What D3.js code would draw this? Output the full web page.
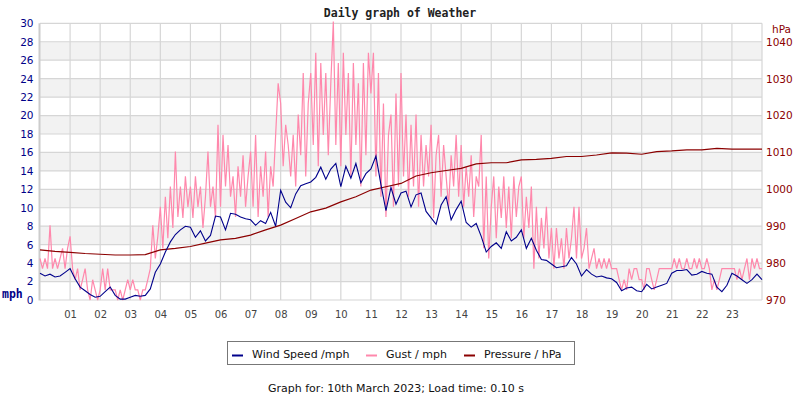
<!DOCTYPE html>
<html>
<head>
<meta charset="utf-8">
<script src="https://cdn.jsdelivr.net/npm/d3@7"></script>
<style>
body { margin: 0; background: #fff; }
svg text { font-family: "DejaVu Sans", sans-serif; }
</style>
</head>
<body>
<div id="chart"></div>
<script>
// Wind speed, mph, every 10 minutes from 00:00 to 24:00
const windSpeed = [
  2.9, 2.6, 2.8, 2.5, 2.6, 3.0,
  3.4, 2.3, 1.4, 1.0, 0.6, 0.3,
  0.4, 0.9, 1.4, 0.5, 0.1, 0.1,
  0.3, 0.5, 0.4, 0.5, 1.2, 3.0,
  3.9, 5.2, 6.3, 7.1, 7.6, 8.0,
  7.9, 6.8, 7.5, 6.4, 7.0, 9.1,
  9.0, 7.6, 9.4, 9.3, 9.0, 8.8,
  8.7, 8.1, 8.6, 8.3, 9.5, 8.0,
  11.9, 10.6, 10.0, 11.5, 12.4, 12.6,
  12.8, 13.3, 14.4, 13.1, 14.2, 14.8,
  12.3, 14.5, 13.2, 14.8, 12.7, 13.7,
  14.2, 15.6, 12.5, 9.7, 12.2, 10.4,
  11.6, 11.8, 10.1, 11.4, 11.6, 9.6,
  8.9, 8.2, 10.3, 11.2, 8.7, 9.8,
  10.7, 8.4, 7.9, 8.3, 6.9, 5.2,
  5.8, 6.2, 5.6, 7.4, 6.4, 6.8,
  7.6, 5.6, 6.7, 5.4, 4.4, 4.3,
  3.9, 3.5, 3.6, 3.7, 4.6, 3.9,
  2.6, 3.3, 2.8, 2.5, 2.6, 2.4,
  2.3, 1.9, 1.0, 1.3, 1.4, 1.0,
  0.9, 1.7, 1.2, 1.4, 1.6, 1.8,
  2.9, 3.2, 3.2, 3.3, 2.7, 2.8,
  3.1, 2.9, 2.8, 1.4, 0.9, 1.6,
  2.9, 2.6, 2.2, 1.8, 2.2, 2.8,
  2.2
];

// Gust, mph, every 5 minutes from 00:00 to 24:00
const gust = [
  4.5, 3.4, 4.5, 3.4, 8.1, 3.4, 4.5, 3.4, 4.5, 5.6, 3.4, 5.6,
  6.9, 3.4, 2.2, 3.4, 1.1, 2.2, 3.4, 1.1, 0.0, 2.2, 1.1, 0.0,
  1.1, 3.4, 1.1, 3.4, 1.1, 1.1, 1.1, 0.0, 1.1, 0.0, 1.1, 2.2,
  1.1, 2.2, 1.1, 1.1, 0.0, 1.1, 1.1, 2.2, 3.4, 8.1, 4.5, 6.9,
  10.1, 5.6, 11.2, 6.7, 12.3, 7.8, 16.1, 9.0, 12.3, 8.9, 13.4, 10.1,
  12.3, 8.9, 13.4, 10.1, 12.3, 7.8, 11.2, 16.1, 10.1, 12.3, 8.9, 19.0,
  10.1, 17.9, 12.3, 16.8, 11.2, 13.4, 9.0, 14.5, 11.2, 15.7, 10.1, 13.4,
  16.1, 10.1, 17.9, 9.0, 14.5, 11.2, 16.1, 9.0, 14.5, 12.3, 17.9, 23.5,
  21.3, 14.5, 19.0, 16.8, 13.4, 17.9, 12.3, 20.1, 15.7, 24.6, 13.4, 21.3,
  24.6, 16.8, 26.8, 14.5, 25.7, 17.9, 24.6, 15.7, 23.5, 30.2, 16.8, 25.7,
  14.5, 26.8, 17.9, 24.6, 13.4, 25.7, 16.8, 23.5, 12.3, 25.7, 15.7, 26.8,
  22.4, 26.8, 13.4, 24.6, 11.2, 21.3, 9.0, 17.9, 20.1, 10.1, 22.4, 12.3,
  24.6, 13.4, 20.1, 11.2, 19.0, 12.3, 20.1, 10.1, 17.9, 12.3, 16.8, 13.4,
  19.0, 8.9, 15.7, 17.9, 11.2, 16.8, 13.4, 10.1, 15.7, 12.3, 17.9, 11.2,
  16.8, 10.1, 14.5, 11.2, 15.7, 9.0, 13.4, 12.3, 17.9, 5.6, 13.4, 4.5,
  10.1, 13.4, 6.7, 12.3, 8.9, 13.4, 7.8, 12.3, 6.7, 13.4, 9.0, 12.3,
  13.4, 6.7, 11.2, 7.8, 12.3, 3.4, 10.1, 4.5, 8.9, 5.6, 10.1, 4.5,
  7.8, 3.4, 7.8, 4.5, 6.7, 3.4, 7.8, 4.5, 6.7, 10.1, 4.5, 10.1,
  4.5, 5.6, 7.8, 3.4, 4.5, 5.6, 3.4, 4.5, 3.4, 4.5, 3.4, 4.5,
  3.4, 3.4, 3.4, 2.2, 1.1, 2.2, 1.1, 3.4, 2.2, 3.4, 3.4, 2.2,
  2.2, 1.1, 3.4, 3.4, 2.2, 1.1, 2.2, 3.4, 3.4, 3.4, 3.4, 3.4,
  3.4, 4.5, 3.4, 4.5, 3.4, 3.4, 4.5, 3.4, 3.4, 4.5, 3.4, 4.5,
  3.4, 3.4, 4.5, 3.4, 1.1, 2.2, 1.1, 2.2, 3.4, 3.4, 3.4, 3.4,
  3.4, 3.4, 2.2, 3.4, 2.2, 3.4, 4.5, 2.2, 4.5, 3.4, 4.5, 3.4,
  3.4
];

// Pressure, hPa, every 30 minutes from 00:00 to 24:00
const pressure = [
  983.6, 983.2, 982.9, 982.6, 982.4, 982.2, 982.2, 982.3,
  983.6, 984.0, 984.5, 985.4, 986.3, 986.7, 987.6, 989.0,
  990.3, 992.1, 993.9, 994.9, 996.6, 998.0, 999.8, 1000.7,
  1001.6, 1003.6, 1004.5, 1005.1, 1005.7, 1006.9, 1007.2, 1007.2,
  1008.0, 1008.1, 1008.4, 1008.9, 1008.9, 1009.3, 1009.9, 1009.8,
  1009.5, 1010.2, 1010.4, 1010.7, 1010.7, 1011.1, 1010.9, 1010.9,
  1010.9
];

const hourTicks = ['01','02','03','04','05','06','07','08','09','10','11','12',
  '13','14','15','16','17','18','19','20','21','22','23'];
const mphTicks = [0, 2, 4, 6, 8, 10, 12, 14, 16, 18, 20, 22, 24, 26, 28, 30];
const hpaTicks = [970, 980, 990, 1000, 1010, 1020, 1030, 1040];
const legendItems = [
  {label: 'Wind Speed /mph', color: '#00008b', x: 232},
  {label: 'Gust / mph', color: '#ff88ac', x: 366},
  {label: 'Pressure / hPa', color: '#8b0000', x: 464}
];

const width = 800, height = 400;
const plot = {left: 40, right: 762, top: 23.3, bottom: 300};

const svg = d3.select('#chart').append('svg')
    .attr('width', width)
    .attr('height', height);

const xScale = d3.scaleLinear().domain([0, 24]).range([plot.left, plot.right]);
const yScale = d3.scaleLinear().domain([0, 30]).range([plot.bottom, plot.top]);
const pScale = d3.scaleLinear().domain([970, 1045]).range([plot.bottom, plot.top]);

// shaded bands
svg.append('g').selectAll('rect')
    .data(mphTicks.filter(function(d) { return d % 4 === 2 && d < 30; }))
    .enter().append('rect')
    .attr('x', plot.left)
    .attr('width', plot.right - plot.left)
    .attr('y', function(d) { return yScale(d + 2); })
    .attr('height', function(d) { return yScale(d) - yScale(d + 2); })
    .attr('fill', '#f2f2f2');

// grid
svg.append('g').selectAll('line')
    .data(mphTicks)
    .enter().append('line')
    .attr('x1', plot.left).attr('x2', plot.right)
    .attr('y1', function(d) { return yScale(d); })
    .attr('y2', function(d) { return yScale(d); })
    .attr('stroke', '#d6d6d6')
    .attr('stroke-width', 1.2);

svg.append('g').selectAll('line')
    .data(hourTicks)
    .enter().append('line')
    .attr('x1', function(d) { return xScale(+d); })
    .attr('x2', function(d) { return xScale(+d); })
    .attr('y1', plot.top).attr('y2', plot.bottom)
    .attr('stroke', '#d6d6d6')
    .attr('stroke-width', 1.2);

svg.append('line')
    .attr('x1', xScale(24)).attr('x2', xScale(24))
    .attr('y1', plot.top).attr('y2', plot.bottom)
    .attr('stroke', '#d6d6d6').attr('stroke-width', 1.2);

svg.append('line')
    .attr('x1', plot.left - 0.5).attr('x2', plot.left - 0.5)
    .attr('y1', plot.top).attr('y2', plot.bottom + 0.5)
    .attr('stroke', '#cccccc').attr('stroke-width', 2);

// series
const gustLine = d3.line()
    .x(function(d, i) { return xScale(i * 5 / 60); })
    .y(function(d) { return yScale(d); });

const windLine = d3.line()
    .x(function(d, i) { return xScale(i * 10 / 60); })
    .y(function(d) { return yScale(d); });

const pressureLine = d3.line()
    .x(function(d, i) { return xScale(i * 0.5); })
    .y(function(d) { return pScale(d); });

svg.append('path')
    .datum(gust)
    .attr('d', gustLine)
    .attr('fill', 'none')
    .attr('stroke', '#ff88ac')
    .attr('stroke-width', 1.2);

svg.append('path')
    .datum(pressure)
    .attr('d', pressureLine)
    .attr('fill', 'none')
    .attr('stroke', '#8b0000')
    .attr('stroke-width', 1.2);

svg.append('path')
    .datum(windSpeed)
    .attr('d', windLine)
    .attr('fill', 'none')
    .attr('stroke', '#00008b')
    .attr('stroke-width', 1.1);

// axes
const leftAxis = svg.append('g')
    .attr('transform', 'translate(' + plot.left + ',0)')
    .call(d3.axisLeft(yScale).tickValues(mphTicks).tickSize(0).tickPadding(6.5));
leftAxis.select('.domain').remove();
leftAxis.selectAll('text')
    .attr('fill', '#000088')
    .style('font-size', '10.5px')
    .style('font-family', '"DejaVu Sans", sans-serif');

const rightAxis = svg.append('g')
    .attr('transform', 'translate(' + plot.right + ',0)')
    .call(d3.axisRight(pScale).tickValues(hpaTicks).tickFormat(d3.format('d'))
        .tickSize(0).tickPadding(4));
rightAxis.select('.domain').remove();
rightAxis.selectAll('text')
    .attr('fill', '#8b0000')
    .style('font-size', '10.5px')
    .style('font-family', '"DejaVu Sans", sans-serif');

const bottomAxis = svg.append('g')
    .attr('transform', 'translate(0,' + plot.bottom + ')')
    .call(d3.axisBottom(xScale)
        .tickValues(hourTicks.map(Number))
        .tickFormat(function(d, i) { return hourTicks[i]; })
        .tickSize(0).tickPadding(11));
bottomAxis.select('.domain').remove();
bottomAxis.selectAll('text')
    .attr('fill', '#444')
    .style('font-size', '10px')
    .style('font-family', '"DejaVu Sans", sans-serif');

// titles
svg.append('text')
    .attr('x', 400).attr('y', 17)
    .attr('text-anchor', 'middle')
    .style('font-family', '"DejaVu Sans Mono", monospace')
    .style('font-weight', 'bold')
    .style('font-size', '11.5px')
    .attr('fill', '#222')
    .text('Daily graph of Weather');

svg.append('text')
    .attr('x', 2).attr('y', 298)
    .style('font-family', '"DejaVu Sans Mono", monospace')
    .style('font-weight', 'bold')
    .style('font-size', '11.5px')
    .attr('fill', '#000088')
    .text('mph');

svg.append('text')
    .attr('x', 772).attr('y', 33)
    .style('font-size', '10.5px')
    .attr('fill', '#8b0000')
    .text('hPa');

// legend
svg.append('rect')
    .attr('x', 227.5).attr('y', 341.5)
    .attr('width', 347).attr('height', 23)
    .attr('fill', '#fff')
    .attr('stroke', '#777');

const legend = svg.append('g').selectAll('g')
    .data(legendItems)
    .enter().append('g');

legend.append('line')
    .attr('x1', function(d) { return d.x; })
    .attr('x2', function(d) { return d.x + 11; })
    .attr('y1', 355.5).attr('y2', 355.5)
    .attr('stroke', function(d) { return d.color; })
    .attr('stroke-width', 2);

legend.append('text')
    .attr('x', function(d) { return d.x + 20; })
    .attr('y', 358)
    .style('font-size', '11px')
    .attr('fill', '#111')
    .text(function(d) { return d.label; });

svg.append('text')
    .attr('x', 396).attr('y', 392)
    .attr('text-anchor', 'middle')
    .style('font-size', '11px')
    .attr('fill', '#111')
    .text('Graph for: 10th March 2023; Load time: 0.10 s');
</script>
</body>
</html>
